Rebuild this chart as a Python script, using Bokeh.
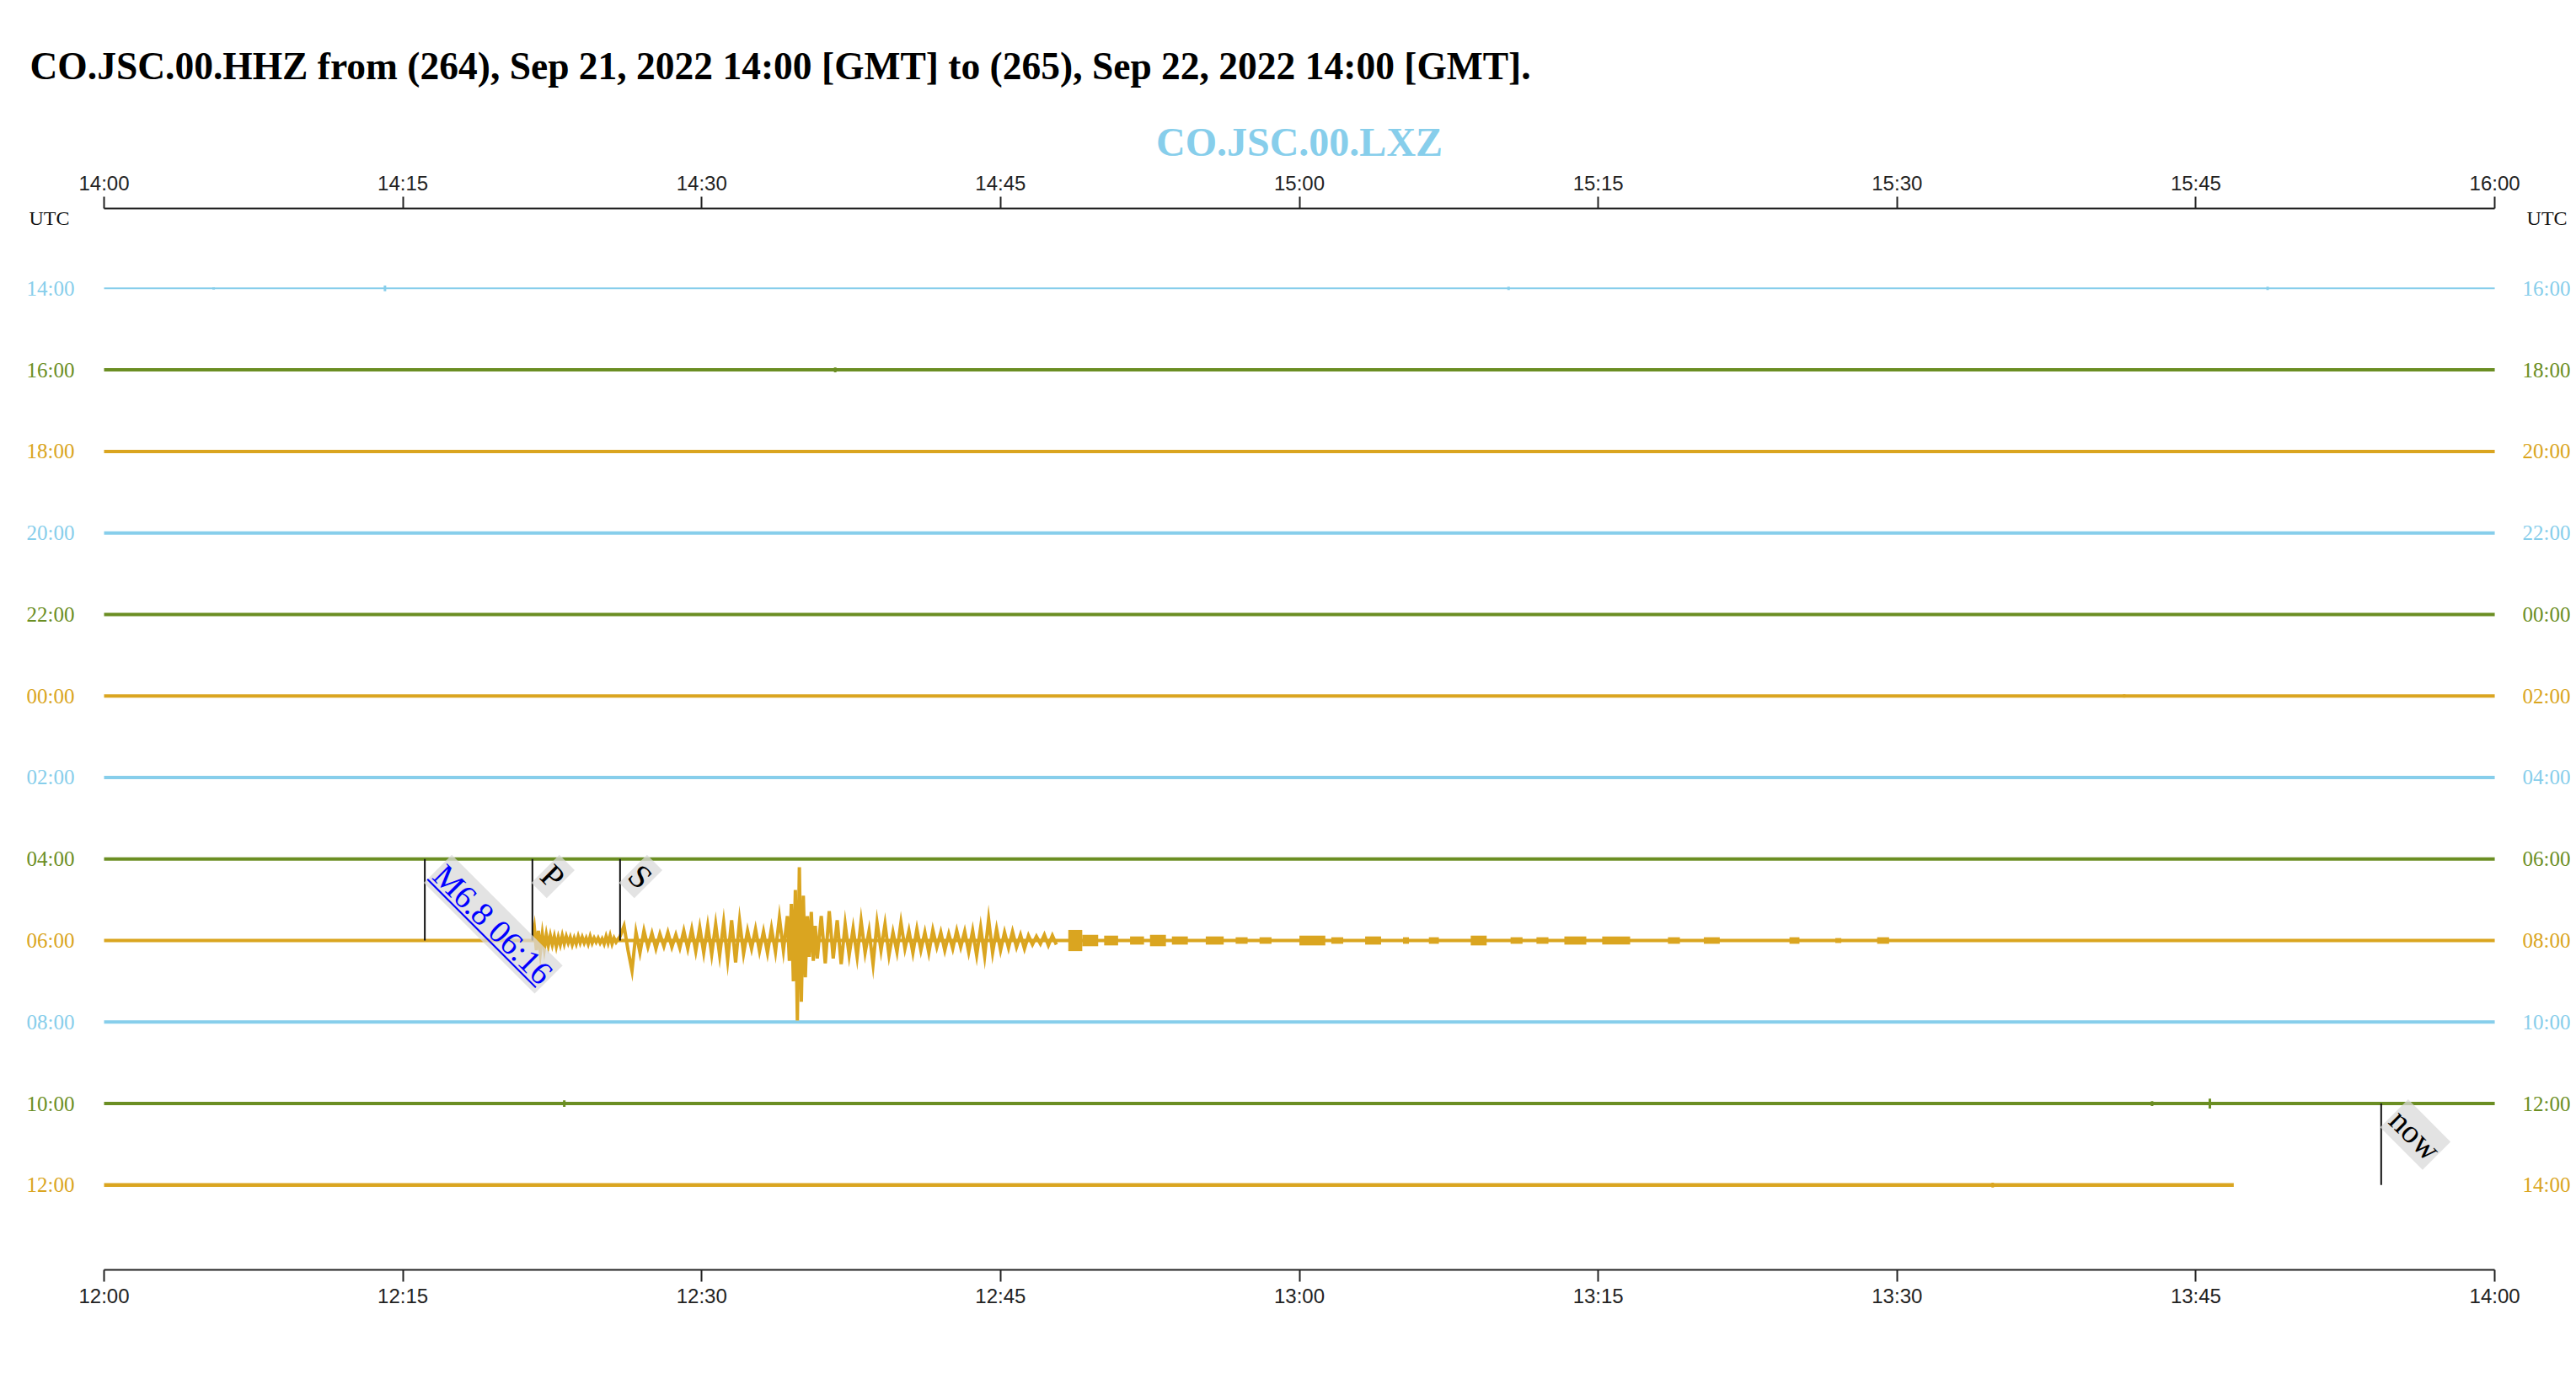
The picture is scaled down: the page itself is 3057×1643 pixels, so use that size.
import numpy as np
from bokeh.plotting import figure
from bokeh.layouts import column
from bokeh.models import Range1d, LinearAxis, FixedTicker
from bokeh.core.properties import value
from bokeh.embed import file_html
from bokeh.resources import INLINE

# ---------------- data ----------------
title_text = "CO.JSC.00.HHZ from (264), Sep 21, 2022 14:00 [GMT] to (265), Sep 22, 2022 14:00 [GMT]."
subtitle_text = "CO.JSC.00.LXZ"

tick_minutes = [0, 15, 30, 45, 60, 75, 90, 105, 120]
top_tick_labels = ["14:00", "14:15", "14:30", "14:45", "15:00", "15:15", "15:30", "15:45", "16:00"]
bottom_tick_labels = ["12:00", "12:15", "12:30", "12:45", "13:00", "13:15", "13:30", "13:45", "14:00"]

row_start_labels = ["14:00", "16:00", "18:00", "20:00", "22:00", "00:00",
                    "02:00", "04:00", "06:00", "08:00", "10:00", "12:00"]
row_end_labels = ["16:00", "18:00", "20:00", "22:00", "00:00", "02:00",
                  "04:00", "06:00", "08:00", "10:00", "12:00", "14:00"]
row_colors = ["skyblue", "olivedrab", "goldenrod"] * 4
row_data_end = [120, 120, 120, 120, 120, 120, 120, 120, 120, 120, 120, 106.9]
row_line_width = [2, 4, 4, 4, 4, 4, 4, 4, 4, 4, 4, 4.5]
quake_row = 8

# quake trace (row 06:00) : amplitudes in row-spacing units (+ = up)
p_coda_start, p_coda_step = 21.5, 0.1
p_coda_amp = [0.0, 0.15, -0.12, 0.12, -0.14, 0.08, -0.10, 0.07, -0.06, 0.06,
              -0.05, 0.05, -0.07, 0.04, -0.05, 0.06, -0.04, 0.05, -0.03, 0.04,
              -0.05, 0.03, -0.04, 0.05, -0.03, 0.04, -0.03, 0.03, -0.04, 0.05,
              -0.03, 0.03, -0.02, 0.03, -0.03, 0.02, -0.04, 0.05, -0.03, 0.06,
              -0.04, 0.03, -0.02, 0.02]
s_wave_start, s_wave_step = 25.9, 0.2
s_wave_amp = [0.05, 0.18, -0.12, -0.37, 0.10, -0.15, 0.12, -0.08, 0.09, -0.10,
              0.08, -0.07, 0.10, -0.08, 0.07, -0.09, 0.12, -0.10, 0.14, -0.13,
              0.16, -0.15, 0.18, -0.17, 0.20, -0.18, 0.22, -0.24, 0.25, -0.27,
              0.24, -0.16, 0.12, -0.10, 0.14, -0.13, 0.11, -0.15, 0.15, -0.14,
              0.28, -0.12]
peak_start, peak_step = 34.3, 0.1
peak_amp = [0.30, -0.25, 0.45, -0.50, 0.62, -0.98, 0.90, -0.75, 0.55, -0.45,
            0.30, -0.20, 0.35, -0.25, 0.18, -0.22]
coda_start, coda_step = 36.0, 0.2
coda_amp = [0.30, -0.28, 0.36, -0.22, 0.25, -0.29, 0.20, -0.18, 0.15, -0.20,
            0.24, -0.15, 0.12, -0.29, 0.22, -0.12, 0.20, -0.18, 0.10, -0.14,
            0.22, -0.10, 0.12, -0.15, 0.14, -0.12, 0.10, -0.15, 0.13, -0.08,
            0.10, -0.12, 0.08, -0.10, 0.12, -0.08, 0.11, -0.14, 0.12, -0.18,
            0.16, -0.19, 0.26, -0.15, 0.14, -0.12, 0.10, -0.09, 0.11, -0.08,
            0.07, -0.10, 0.06, -0.05, 0.05, -0.04, 0.07, -0.06, 0.06, -0.05]
# late coda: short bursts of noise (start minute, end minute, half-height)
burst_t0 = [48.4, 49.1, 50.2, 51.5, 52.5, 53.6, 55.3, 56.8, 58.0, 60.0, 61.6, 63.3,
            65.2, 66.5, 68.6, 70.6, 71.9, 73.3, 75.2, 78.5, 80.3, 84.6, 86.9, 89.0]
burst_t1 = [49.1, 49.9, 50.9, 52.2, 53.3, 54.4, 56.2, 57.4, 58.6, 61.3, 62.2, 64.1,
            65.5, 67.0, 69.4, 71.2, 72.5, 74.4, 76.6, 79.1, 81.1, 85.1, 87.2, 89.6]
burst_amp = [0.13, 0.07, 0.06, 0.05, 0.07, 0.05, 0.05, 0.04, 0.04, 0.06, 0.04, 0.05,
             0.04, 0.04, 0.06, 0.04, 0.04, 0.05, 0.05, 0.04, 0.04, 0.04, 0.03, 0.04]

# small blips on the quiet rows (row index, minute, half-height)
blip_row = [0, 0, 0, 0, 1, 5, 10, 10, 10, 10, 11, 11, 11, 11]
blip_t = [5.5, 14.1, 70.5, 108.6, 36.7, 101.4, 23.1, 102.8, 105.7, 109.9, 20.0, 55.0, 94.8, 104.0]
blip_amp = [0.015, 0.035, 0.02, 0.02, 0.03, 0.02, 0.04, 0.03, 0.06, 0.02, 0.02, 0.02, 0.03, 0.02]

# pick markers
marker_labels = ["M6.8 06:16", "P", "S", "now"]
marker_row = [8, 8, 8, 11]
marker_t = [16.1, 21.5, 25.9, 114.3]
marker_color = ["blue", "black", "black", "black"]

# ---------------- layout ----------------
W, H = 3057, 1643
header_h = 200
top_border, bottom_border = 46, 136
main_h = H - header_h
x0, x1 = -5.2026, 124.10
y0, y1 = -12.04, 0.98
px_per_min = W / (x1 - x0)
px_per_row = (main_h - top_border - bottom_border) / (y1 - y0)

# header with the two titles (pixel coordinates, y up)
hdr = figure(width=W, height=header_h, output_backend="svg", toolbar_location=None,
             x_range=Range1d(0, W), y_range=Range1d(0, header_h),
             x_axis_location=None, y_axis_location=None,
             min_border=0, outline_line_color=None,
             background_fill_color="white", border_fill_color="white")
hdr.grid.visible = False
hdr.text(x=[35], y=[header_h - 78], text=[title_text], text_align="left",
         text_baseline="middle", text_font=value("Liberation Serif"),
         text_font_style="bold", text_font_size="45.5px", text_color="black")
hdr.text(x=[(60 - x0) * px_per_min], y=[header_h - 168], text=[subtitle_text],
         text_align="center", text_baseline="middle", text_font=value("Liberation Serif"),
         text_font_style="bold", text_font_size="48px", text_color="skyblue")

p = figure(width=W, height=main_h, output_backend="svg", toolbar_location=None,
           x_range=Range1d(x0, x1), y_range=Range1d(y0, y1),
           x_axis_location=None, y_axis_location=None,
           min_border_left=0, min_border_right=0,
           min_border_top=top_border, min_border_bottom=bottom_border,
           background_fill_color="white", border_fill_color="white",
           outline_line_color=None)
p.grid.visible = False

def make_axis(labels):
    ax = LinearAxis(ticker=FixedTicker(ticks=tick_minutes, minor_ticks=[]),
                    major_label_overrides={t: l for t, l in zip(tick_minutes, labels)})
    ax.bounds = (tick_minutes[0], tick_minutes[-1])
    ax.axis_line_color = "#222222"
    ax.axis_line_width = 2
    ax.major_tick_line_color = "#222222"
    ax.major_tick_line_width = 2
    ax.major_tick_out = 14
    ax.major_tick_in = 0
    ax.minor_tick_out = 0
    ax.minor_tick_in = 0
    ax.major_label_standoff = 3
    ax.major_label_text_font = "Liberation Sans"
    ax.major_label_text_font_size = "24px"
    ax.major_label_text_color = "#222222"
    return ax

p.add_layout(make_axis(top_tick_labels), "above")
p.add_layout(make_axis(bottom_tick_labels), "below")

# baselines of every row
for i in range(len(row_start_labels)):
    p.line([0, row_data_end[i]], [-i, -i], line_color=row_colors[i],
           line_width=row_line_width[i])

# blips
bx = np.array(blip_t)
by = -np.array(blip_row, dtype=float)
ba = np.array(blip_amp)
p.segment(x0=bx, y0=by - ba, x1=bx, y1=by + ba,
          line_color=[row_colors[r] for r in blip_row], line_width=3)

# quake row trace
def seg_times(start, step, amps):
    return list(np.round(start + step * np.arange(len(amps)), 3))

qt = seg_times(p_coda_start, p_coda_step, p_coda_amp) \
     + seg_times(s_wave_start, s_wave_step, s_wave_amp) \
     + seg_times(peak_start, peak_step, peak_amp) \
     + seg_times(coda_start, coda_step, coda_amp)
qa = p_coda_amp + s_wave_amp + peak_amp + coda_amp
p.line(qt, list(np.array(qa) - quake_row), line_color=row_colors[quake_row],
       line_width=4, line_join="miter")
bamp = np.array(burst_amp)
p.quad(left=burst_t0, right=burst_t1, bottom=-quake_row - bamp, top=-quake_row + bamp,
       fill_color=row_colors[quake_row], line_color=None)

# row labels
nrows = len(row_start_labels)
ys = [-i for i in range(nrows)]
p.text(x=[0] * nrows, y=ys, text=row_start_labels, x_offset=-35,
       text_align="right", text_baseline="middle",
       text_font=value("Liberation Serif"), text_font_size="25px",
       text_color=row_colors)
p.text(x=[120] * nrows, y=ys, text=row_end_labels, x_offset=33,
       text_align="left", text_baseline="middle",
       text_font=value("Liberation Serif"), text_font_size="25px",
       text_color=row_colors)
p.text(x=[0], y=[y1], text=["UTC"], x_offset=-41, y_offset=11,
       text_align="right", text_baseline="middle",
       text_font=value("Liberation Serif"), text_font_size="24px", text_color="#111111")
p.text(x=[120], y=[y1], text=["UTC"], x_offset=38, y_offset=11,
       text_align="left", text_baseline="middle",
       text_font=value("Liberation Serif"), text_font_size="24px", text_color="#111111")

# markers
mb = -np.array(marker_row, dtype=float)
p.segment(x0=marker_t, y0=mb, x1=marker_t, y1=mb + 1, line_color="#111111", line_width=2)
mfont = 39
xo, yo = 32, -5
p.text(x=marker_t, y=list(mb + 1), text=marker_labels, angle=-45, angle_units="deg",
       x_offset=xo, y_offset=yo, anchor="top_left",
       text_font=value("Liberation Serif"), text_font_size=f"{mfont}px",
       text_color=marker_color,
       background_fill_color="#d9d9d9", background_fill_alpha=0.75, padding=2)
# underline of the event link (lower-left side of the rotated text)
c = np.cos(np.pi / 4)
ux0_px, uy0_px = xo - c * mfont * 1.05, yo + c * mfont * 1.05
ulen = 4.667 * mfont
ux1_px, uy1_px = ux0_px + c * ulen, uy0_px + c * ulen
p.segment(x0=[marker_t[0] + ux0_px / px_per_min], y0=[mb[0] + 1 - uy0_px / px_per_row],
          x1=[marker_t[0] + ux1_px / px_per_min], y1=[mb[0] + 1 - uy1_px / px_per_row],
          line_color="blue", line_width=2)

layout = column(hdr, p, spacing=0)
open("out.html", "w").write(file_html(layout, INLINE))
